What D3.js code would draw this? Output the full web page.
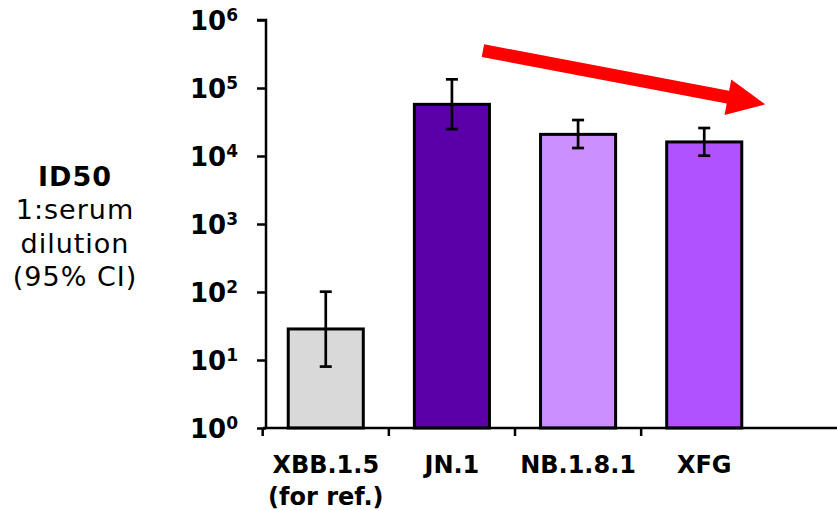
<!DOCTYPE html>
<html>
<head>
<meta charset="utf-8">
<script src="https://cdn.jsdelivr.net/npm/d3@7"></script>
<style>
  body { margin: 0; background: #fff; }
  svg { display: block; font-family: "DejaVu Sans", Verdana, sans-serif; }
</style>
</head>
<body>
<svg id="chart" width="837" height="510"></svg>
<script>
// data
var variants = ["XBB.1.5", "JN.1", "NB.1.8.1", "XFG"];
var subLabels = ["(for ref.)", "", "", ""];
var id50 = [28.6, 57500, 20800, 16100];
var ciLow = [8.0, 24900, 13100, 10100];
var ciHigh = [101, 134000, 33800, 25800];
var barColors = ["#d9d9d9", "#5b00a9", "#cb8fff", "#b052ff"];
var yTicks = [1, 10, 100, 1000, 10000, 100000, 1000000];

var svg = d3.select("#chart");
var W = 837, H = 510;
var plotLeft = 263, plotTop = 20, plotBottom = 428;

var x = d3.scaleBand().domain(variants).range([plotLeft, plotLeft + 504]).paddingInner(0.405).paddingOuter(0.2);
var y = d3.scaleLog().domain([1, 1e6]).range([plotBottom, plotTop]);

var data = variants.map(function(v, i) {
    return { name: v, sub: subLabels[i], val: id50[i], lo: ciLow[i], hi: ciHigh[i], color: barColors[i] };
});

// bars
svg.selectAll("rect.bar")
   .data(data).enter()
   .append("rect")
   .attr("class", "bar")
   .attr("x", function(d) { return x(d.name); })
   .attr("y", function(d) { return y(d.val); })
   .attr("width", x.bandwidth())
   .attr("height", function(d) { return plotBottom - y(d.val); })
   .style("fill", function(d) { return d.color; })
   .style("stroke", "#000")
   .style("stroke-width", 3);

// error bars
var err = svg.selectAll("g.err").data(data).enter().append("g").attr("class", "err")
   .attr("transform", function(d) { return "translate(" + (x(d.name) + x.bandwidth() / 2) + ",0)"; });
err.append("line").attr("y1", function(d) { return y(d.lo); }).attr("y2", function(d) { return y(d.hi); })
   .style("stroke", "#000").style("stroke-width", 2.7);
err.append("line").attr("x1", -6).attr("x2", 6).attr("y1", function(d) { return y(d.hi); }).attr("y2", function(d) { return y(d.hi); })
   .style("stroke", "#000").style("stroke-width", 2.7);
err.append("line").attr("x1", -6).attr("x2", 6).attr("y1", function(d) { return y(d.lo); }).attr("y2", function(d) { return y(d.lo); })
   .style("stroke", "#000").style("stroke-width", 2.7);

// Axis Y
var yAxis = svg.append("g").attr("transform", "translate(" + (plotLeft + 3) + ",0)")
   .call(d3.axisLeft(y).tickValues(yTicks).tickSize(9).tickFormat(""));
yAxis.select(".domain").attr("d", "M-9," + y(1e6) + "H0V" + plotBottom).style("stroke-width", 2.5);
yAxis.selectAll(".tick line").style("stroke-width", 2.5);
var yl = yAxis.selectAll(".tick").append("text")
   .attr("x", -28).attr("y", 0).attr("dy", "0.36em")
   .attr("text-anchor", "end").attr("fill", "#000")
   .style("font-size", "26px").style("font-weight", "bold")
   .style("font-family", '"DejaVu Sans", Verdana, sans-serif');
yl.append("tspan").text("10");
yl.append("tspan").attr("dy", "-0.55em").style("font-size", "17px")
   .text(function(d) { return String(Math.round(Math.log10(d))); });

// Axis X
svg.append("line").attr("x1", plotLeft).attr("x2", W).attr("y1", plotBottom).attr("y2", plotBottom)
   .style("stroke", "#000").style("stroke-width", 2.5);
var step = x.step();
svg.selectAll("line.xtick").data(variants).enter().append("line").attr("class", "xtick")
   .attr("x1", function(d) { return x(d) - (step - x.bandwidth()) / 2; })
   .attr("x2", function(d) { return x(d) - (step - x.bandwidth()) / 2; })
   .attr("y1", plotBottom).attr("y2", plotBottom + 8)
   .style("stroke", "#000").style("stroke-width", 2.5);

var xl = svg.selectAll("text.xlab").data(data).enter().append("text").attr("class", "xlab")
   .attr("x", function(d) { return x(d.name) + x.bandwidth() / 2; })
   .attr("y", 473)
   .attr("text-anchor", "middle")
   .style("font-size", "24px").style("font-weight", "bold");
xl.append("tspan").text(function(d) { return d.name; });
xl.append("tspan").attr("x", function(d) { return x(d.name) + x.bandwidth() / 2; }).attr("dy", 32)
   .text(function(d) { return d.sub; });

// y title, clipped on the right
svg.append("clipPath").attr("id", "ttlclip").append("rect").attr("x", 0).attr("y", 0).attr("width", 137).attr("height", H);
var ttl = svg.append("text").attr("clip-path", "url(#ttlclip)").attr("text-anchor", "middle")
   .style("font-size", "27px").style("letter-spacing", "1px");
var titleLines = ["ID50", "1:serum", "dilution", "(95% CI)"];
ttl.selectAll("tspan").data(titleLines).enter().append("tspan")
   .attr("x", 75).attr("y", function(d, i) { return 186 + i * 33.4; })
   .style("font-weight", function(d, i) { return i === 0 ? "bold" : "normal"; })
   .text(function(d) { return d; });

// red arrow: from above JN.1 towards XFG
var a0 = [x("JN.1") + x.bandwidth() / 2 + 31, y(10 ** 5.55)];
var a1 = [x("XFG") + x.bandwidth() / 2 + 61, y(10 ** 4.76)];
var ang = Math.atan2(a1[1] - a0[1], a1[0] - a0[0]);
var headLen = 38, headHalf = 18, shaftHalf = 6.5;
var ca = Math.cos(ang), sa = Math.sin(ang);
function pt(along, across) { return [a1[0] - along * ca - across * sa, a1[1] - along * sa + across * ca]; }
var len = Math.hypot(a1[0] - a0[0], a1[1] - a0[1]);
var poly = [pt(len, -shaftHalf), pt(headLen, -shaftHalf), pt(headLen, -headHalf), pt(0, 0),
            pt(headLen, headHalf), pt(headLen, shaftHalf), pt(len, shaftHalf)];
svg.append("polygon").attr("points", poly.map(function(p) { return p.join(","); }).join(" "))
   .style("fill", "#ff0000");
</script>
</body>
</html>
